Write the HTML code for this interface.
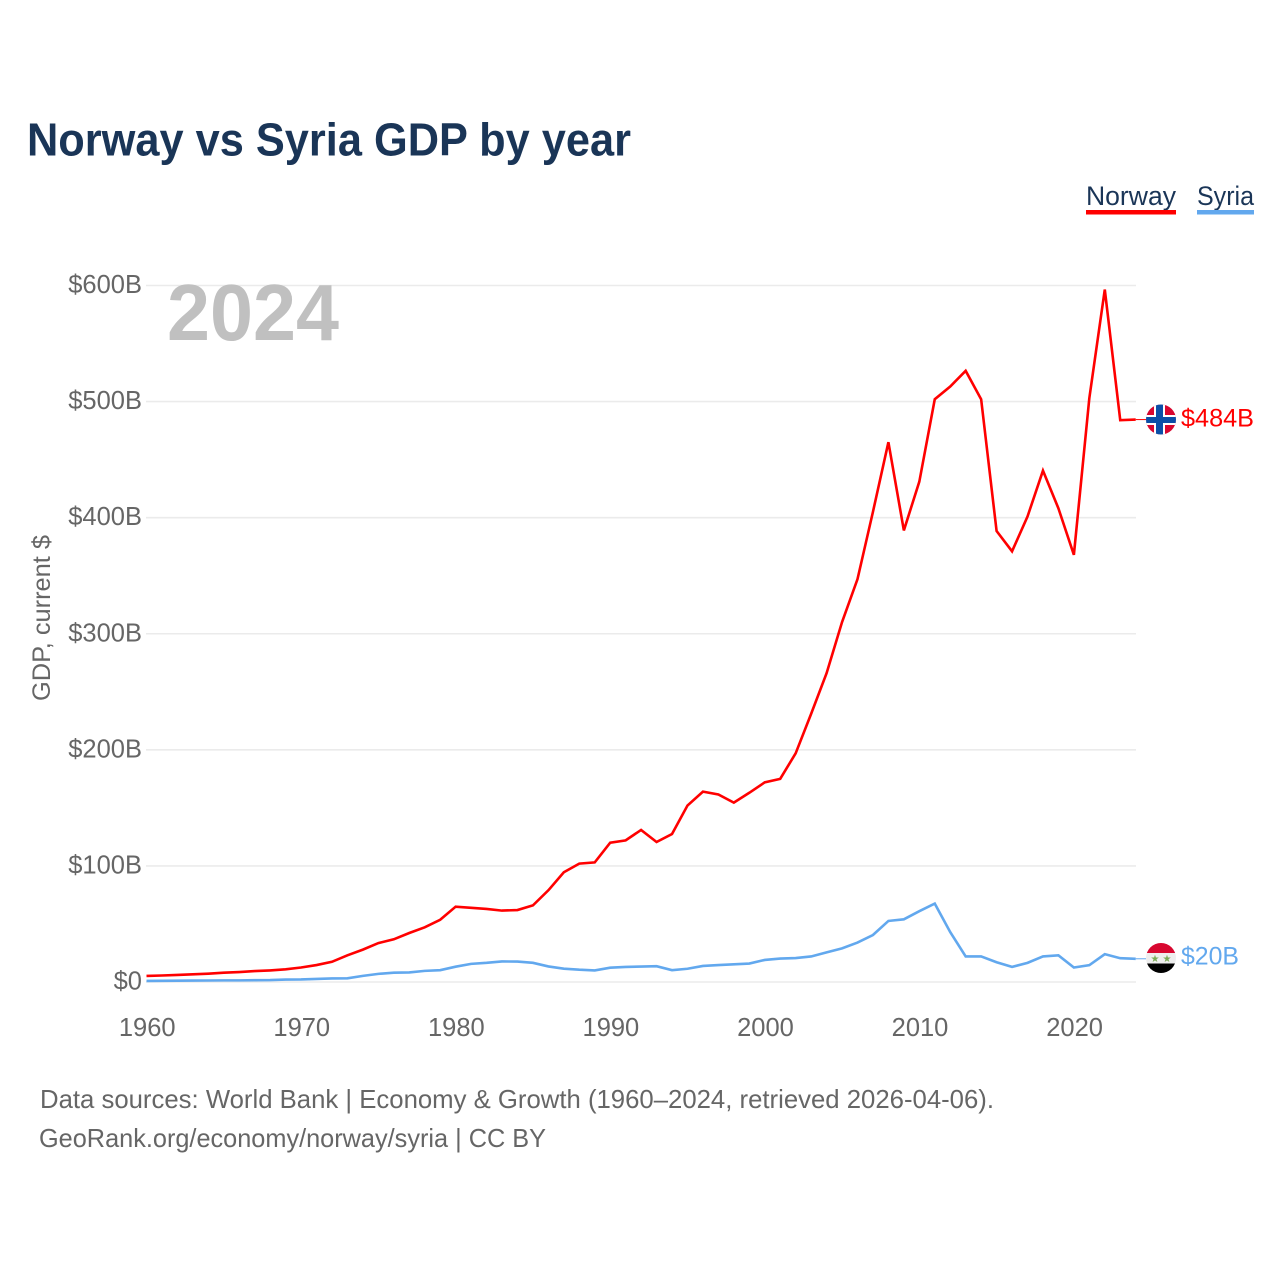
<!DOCTYPE html>
<html lang="en">
<head>
<meta charset="utf-8">
<title>Norway vs Syria GDP by year</title>
<style>
html,body{margin:0;padding:0;background:#fff;width:1280px;height:1280px;overflow:hidden}
svg{display:block;font-family:"Liberation Sans",sans-serif}
</style>
</head>
<body>
<svg id="chart" width="1280" height="1280" viewBox="0 0 1280 1280" xmlns="http://www.w3.org/2000/svg">
  <defs>
    <clipPath id="clip-no"><circle cx="1161" cy="419.5" r="15"/></clipPath>
    <clipPath id="clip-sy"><circle cx="1161" cy="958" r="15"/></clipPath>
  </defs>
  <text x="27" y="155.5" font-size="46" font-weight="700" fill="#1a3557" textLength="604" lengthAdjust="spacingAndGlyphs">Norway vs Syria GDP by year</text>

  <g>
    <text x="1086" y="205" font-size="27" fill="#1a3557" textLength="90" lengthAdjust="spacingAndGlyphs">Norway</text>
    <rect x="1086" y="210" width="90" height="4.5" fill="#ff0000"/>
  </g>
  <g>
    <text x="1197" y="205" font-size="27" fill="#1a3557" textLength="57" lengthAdjust="spacingAndGlyphs">Syria</text>
    <rect x="1197" y="210" width="57" height="4.5" fill="#62a8ee"/>
  </g>

  <g id="grid"></g>
  <g id="yticks"></g>
  <g id="xticks"></g>

  <text x="0" y="0" transform="translate(50,618) rotate(-90)" text-anchor="middle" font-size="25" fill="#666" textLength="166" lengthAdjust="spacingAndGlyphs">GDP, current $</text>

  <text x="167" y="340" font-size="80" font-weight="700" fill="#c0c0c0" textLength="172" lengthAdjust="spacingAndGlyphs">2024</text>

  <g id="series"></g>

  <g clip-path="url(#clip-no)">
    <rect x="1146" y="404" width="30" height="31" fill="#d8072f"/>
    <rect x="1154" y="404" width="11" height="31" fill="#fff"/>
    <rect x="1146" y="415" width="30" height="10" fill="#fff"/>
    <rect x="1156" y="404" width="7" height="31" fill="#0a4fa8"/>
    <rect x="1146" y="417" width="30" height="6" fill="#0a4fa8"/>
  </g>
  <g clip-path="url(#clip-sy)">
    <rect x="1146" y="943" width="30" height="10" fill="#d8072f"/>
    <rect x="1146" y="953" width="30" height="10.5" fill="#eeeeee"/>
    <rect x="1146" y="963.5" width="30" height="10" fill="#000"/>
    <text x="1155" y="962" font-size="10" text-anchor="middle" fill="#7cab56">★</text>
    <text x="1167" y="962" font-size="10" text-anchor="middle" fill="#7cab56">★</text>
  </g>

  <text x="1181" y="426.5" font-size="25" fill="#ff0000" textLength="73" lengthAdjust="spacingAndGlyphs">$484B</text>
  <text x="1181" y="964.5" font-size="25" fill="#62a8ee" textLength="58" lengthAdjust="spacingAndGlyphs">$20B</text>

  <text x="40" y="1108" font-size="26" fill="#666" textLength="954" lengthAdjust="spacingAndGlyphs">Data sources: World Bank | Economy &amp; Growth (1960–2024, retrieved 2026-04-06).</text>
  <text x="39" y="1147" font-size="26" fill="#666" textLength="507" lengthAdjust="spacingAndGlyphs">GeoRank.org/economy/norway/syria | CC BY</text>
</svg>
<script>
const firstYear = 1960;
const lastYear = 2024;
const yTickValues = [0, 100, 200, 300, 400, 500, 600];
const yTickLabels = ["$0", "$100B", "$200B", "$300B", "$400B", "$500B", "$600B"];
const xTickValues = [1960, 1970, 1980, 1990, 2000, 2010, 2020];
const xTickLabels = ["1960", "1970", "1980", "1990", "2000", "2010", "2020"];
const norwayValues = [5.2, 5.6, 6.1, 6.6, 7.2, 8.0, 8.6, 9.4, 10.0, 10.9, 12.5, 14.6, 17.4, 23.0, 27.9, 33.5, 36.8, 42.2, 47.1, 53.6, 64.9, 63.9, 62.9, 61.5, 62.0, 66.0, 79.0, 94.5, 102.0, 103.0, 120.0, 122.0, 131.0, 120.6, 127.5, 152.0, 164.0, 161.5, 154.5, 163.0, 172.0, 175.0, 197.0, 231.0, 266.0, 310.0, 347.0, 405.0, 465.0, 389.0, 431.0, 502.0, 513.0, 526.5, 502.0, 388.5, 371.0, 401.0, 440.5, 408.0, 368.0, 503.0, 596.5, 484.0, 484.5];
const syriaValues = [0.9, 1.0, 1.1, 1.2, 1.3, 1.4, 1.4, 1.6, 1.7, 2.1, 2.2, 2.6, 3.1, 3.2, 5.3, 7.0, 8.0, 8.2, 9.6, 10.2, 13.2, 15.6, 16.5, 17.7, 17.6, 16.5, 13.4, 11.5, 10.6, 10.0, 12.3, 13.0, 13.3, 13.6, 10.2, 11.4, 13.8, 14.6, 15.2, 15.9, 19.0, 20.2, 20.6, 22.0, 25.5, 29.0, 34.0, 40.5, 52.6, 54.0, 61.0, 67.5, 43.0, 22.0, 22.0, 17.0, 13.0, 16.5, 22.0, 23.0, 12.5, 14.5, 24.0, 20.5, 20.0];

const svgNS = "http://www.w3.org/2000/svg";
const plotLeft = 146.5, plotRight = 1135.7, plotZero = 982, plotTop = 285.5, topValue = 600;
function xScale(year) { return plotLeft + (year - firstYear) * (plotRight - plotLeft) / (lastYear - firstYear); }
function yScale(v) { return plotZero - v * (plotZero - plotTop) / topValue; }
function make(tag, attrs, parent) {
  const el = document.createElementNS(svgNS, tag);
  for (const k in attrs) el.setAttribute(k, attrs[k]);
  parent.appendChild(el);
  return el;
}
const gridG = document.getElementById("grid");
const yG = document.getElementById("yticks");
const xG = document.getElementById("xticks");
const seriesG = document.getElementById("series");

yTickValues.forEach(function (v, i) {
  const line = make("line", {x1: 146, x2: 1136, y1: yScale(v), y2: yScale(v), stroke: "#ebebeb", "stroke-width": 1.6}, gridG);
  
  
  const t = make("text", {x: 142, y: yScale(v) + 7.5, "text-anchor": "end", "font-size": 25.5, fill: "#666"}, yG);
  t.textContent = yTickLabels[i];
  
  
});
xTickValues.forEach(function (yr, i) {
  const t = make("text", {x: xScale(yr) + 0.7, y: 1036, "text-anchor": "middle", "font-size": 25.5, fill: "#666"}, xG);
  t.textContent = xTickLabels[i];
  
  
});
function linePoints(values) {
  return values.map(function (v, i) { return xScale(firstYear + i).toFixed(2) + "," + yScale(v).toFixed(2); }).join(" ");
}
const syriaLine = make("polyline", {points: linePoints(syriaValues), fill: "none", stroke: "#62a8ee", "stroke-width": 2.6, "stroke-linejoin": "miter"}, seriesG);


const norwayLine = make("polyline", {points: linePoints(norwayValues), fill: "none", stroke: "#ff0000", "stroke-width": 2.6, "stroke-linejoin": "miter"}, seriesG);


const norwayLast = norwayValues[norwayValues.length - 1];
const syriaLast = syriaValues[syriaValues.length - 1];
const norwayConnector = make("line", {x1: plotRight, x2: 1146, y1: yScale(norwayLast), y2: yScale(norwayLast), stroke: "#ff0000", "stroke-width": 1}, seriesG);


const syriaConnector = make("line", {x1: plotRight, x2: 1146, y1: yScale(syriaLast), y2: yScale(syriaLast), stroke: "#62a8ee", "stroke-width": 1}, seriesG);


</script>
</body>
</html>
